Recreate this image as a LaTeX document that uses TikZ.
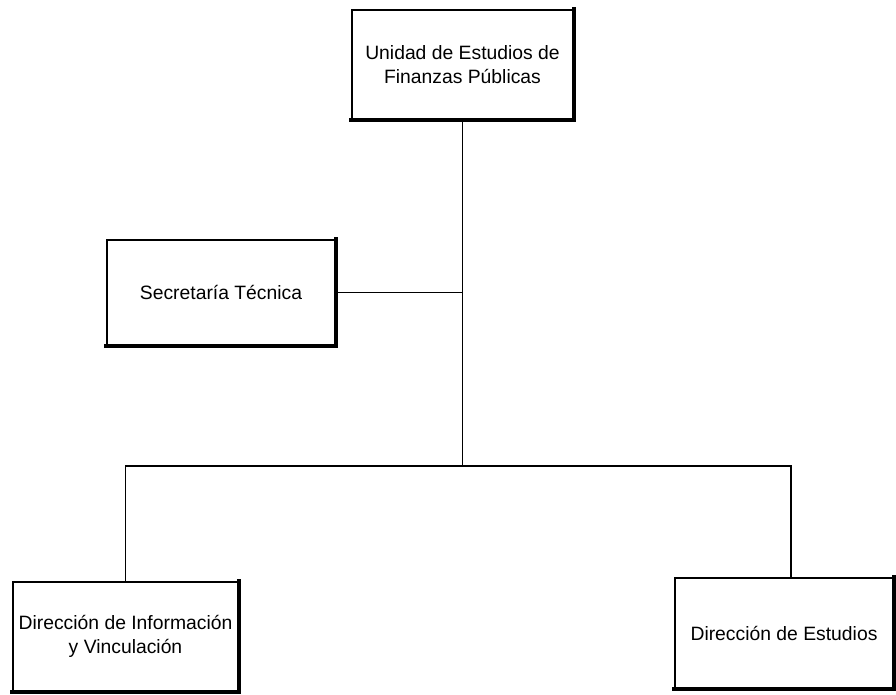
\documentclass[tikz,border=0pt]{standalone}
\usepackage{fontspec}
\setmainfont{Liberation Sans}
\tikzset{
  caja/.style={draw, line width=1.2pt, align=center, inner sep=0pt,
    font=\fontsize{11}{14}\selectfont},
  sombra/.style={line width=2.6pt, line cap=rect}
}
\begin{document}
\begin{tikzpicture}[x=0.02cm, y=-0.02cm, line width=1pt]
    \useasboundingbox (0,0) rectangle (896,694);
    \node[caja, minimum width=4.42cm, minimum height=2.18cm] (U) at (462.5,64.5) {Unidad de Estudios de\\ Finanzas Públicas};
    \node[caja, minimum width=4.56cm, minimum height=2.1cm] (S) at (221,292.5) {Secretaría Técnica};
    \node[caja, minimum width=4.5cm, minimum height=2.18cm] (DI) at (125.5,636.5) {Dirección de Información\\ y Vinculación};
    \node[caja, minimum width=4.36cm, minimum height=2.2cm] (DE) at (784,633) {Dirección de Estudios};
    \foreach \n in {U,S,DI,DE}
      \draw[sombra] (\n.north east) -- (\n.south east) -- (\n.south west);
    \coordinate (J) at (U.south |- 0,466);
    \coordinate (R) at (791,466);
    \draw (U.south) -- (J);
    \draw (S.east) -- (S.east -| U.south);
    \draw (DI.north) |- (R) -- (R |- DE.north);
  \end{tikzpicture}
\end{document}
